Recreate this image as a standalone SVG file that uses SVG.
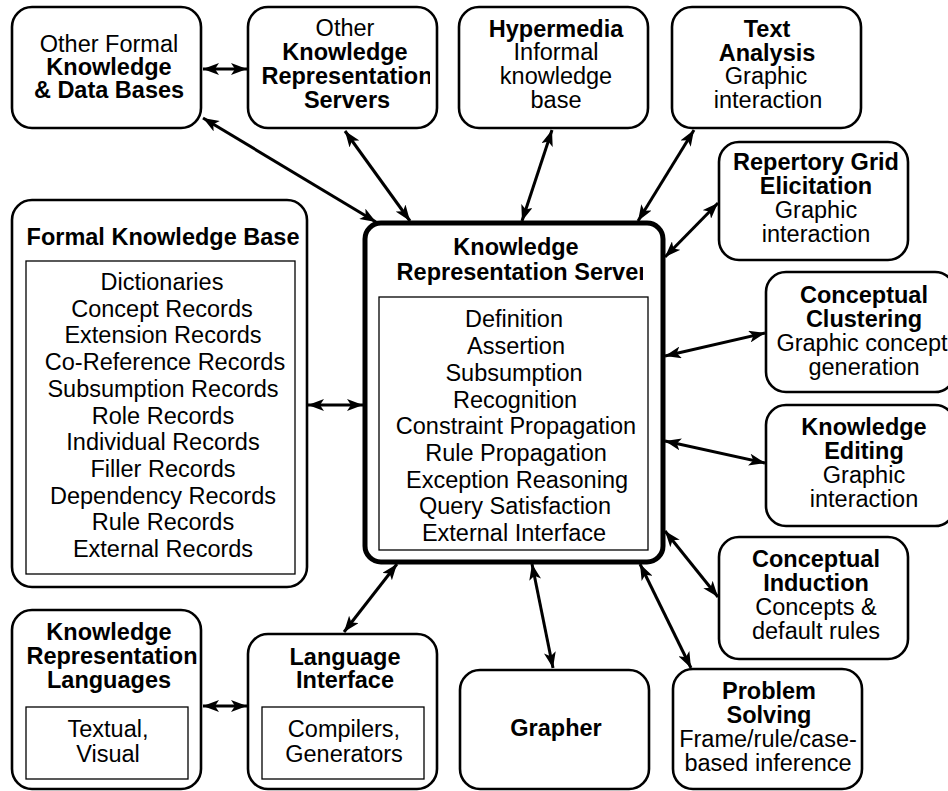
<svg xmlns="http://www.w3.org/2000/svg" width="948" height="791" viewBox="0 0 948 791">
<style>
  .box { fill: #fff; stroke: #000; stroke-width: 2.6; }
  .main { fill: #fff; stroke: #000; stroke-width: 5; }
  .inner { fill: #fff; stroke: #000; stroke-width: 1.3; }
  text { font-family: "Liberation Sans", Arial, Helvetica, sans-serif; font-size: 23.5px; text-anchor: middle; fill: #000; }
  .b { font-weight: bold; }
  .conn line { stroke: #000; stroke-width: 3; marker-start: url(#ah); marker-end: url(#ah); }
</style>
<defs>
  <marker id="ah" viewBox="0 0 16 12" refX="16" refY="6" markerWidth="16" markerHeight="12" markerUnits="userSpaceOnUse" orient="auto-start-reverse">
    <path d="M0,0 L16,6 L0,12 L4,6 Z" fill="#000"/>
  </marker>
  <clipPath id="clipB2"><rect x="250" y="0" width="180" height="140"/></clipPath>
  <clipPath id="clipFKB"><rect x="14" y="200" width="286" height="60"/></clipPath>
  <clipPath id="clipCoRef"><rect x="27" y="262" width="258" height="310"/></clipPath>
  <clipPath id="clipKRS"><rect x="367" y="225" width="276" height="70"/></clipPath>
</defs>
<rect x="0" y="0" width="948" height="791" fill="#fff"/>

<g id="connectors" class="conn">
  <line x1="203" y1="69" x2="247" y2="69"/>
  <line x1="203" y1="118" x2="376" y2="222"/>
  <line x1="345" y1="131" x2="410" y2="221"/>
  <line x1="552" y1="130" x2="522" y2="221"/>
  <line x1="694" y1="130" x2="638" y2="221"/>
  <line x1="718" y1="203" x2="665" y2="257"/>
  <line x1="765" y1="333" x2="665" y2="356"/>
  <line x1="665" y1="441" x2="765" y2="463"/>
  <line x1="665" y1="531" x2="718" y2="597"/>
  <line x1="640" y1="564" x2="691" y2="668"/>
  <line x1="532" y1="564" x2="553" y2="668"/>
  <line x1="397" y1="564" x2="344" y2="632"/>
  <line x1="308" y1="405" x2="363" y2="405"/>
  <line x1="203" y1="706" x2="247" y2="706"/>
</g>

<g id="other-formal-kdb">
  <rect class="box" x="12" y="7" width="189" height="121" rx="20"/>
  <text x="109" y="52">Other Formal</text>
  <text class="b" x="109" y="75">Knowledge</text>
  <text class="b" x="109" y="98">&amp; Data Bases</text>
</g>

<g id="other-krs">
  <rect class="box" x="248" y="7" width="189" height="121" rx="20"/>
  <g clip-path="url(#clipB2)">
    <text x="345" y="36">Other</text>
    <text class="b" x="345" y="60">Knowledge</text>
    <text class="b" x="347" y="84">Representation</text>
    <text class="b" x="347" y="108">Servers</text>
  </g>
</g>

<g id="hypermedia">
  <rect class="box" x="459" y="7" width="189" height="121" rx="20"/>
  <text class="b" x="556" y="37">Hypermedia</text>
  <text x="556" y="60">Informal</text>
  <text x="556" y="84">knowledge</text>
  <text x="556" y="108">base</text>
</g>

<g id="text-analysis">
  <rect class="box" x="672" y="7" width="189" height="121" rx="20"/>
  <text class="b" x="767" y="37">Text</text>
  <text class="b" x="767" y="61">Analysis</text>
  <text x="766" y="84">Graphic</text>
  <text x="768" y="108">interaction</text>
</g>

<g id="repertory-grid">
  <rect class="box" x="719" y="142" width="189" height="118" rx="20"/>
  <text class="b" x="816" y="170">Repertory Grid</text>
  <text class="b" x="816" y="194">Elicitation</text>
  <text x="816" y="218">Graphic</text>
  <text x="816" y="242">interaction</text>
</g>

<g id="conceptual-clustering">
  <rect class="box" x="766" y="272" width="189" height="120" rx="20"/>
  <text class="b" x="864" y="303">Conceptual</text>
  <text class="b" x="864" y="327">Clustering</text>
  <text x="862" y="351">Graphic concept</text>
  <text x="864" y="375">generation</text>
</g>

<g id="knowledge-editing">
  <rect class="box" x="766" y="405" width="189" height="121" rx="20"/>
  <text class="b" x="864" y="435">Knowledge</text>
  <text class="b" x="864" y="459">Editing</text>
  <text x="864" y="483">Graphic</text>
  <text x="864" y="507">interaction</text>
</g>

<g id="conceptual-induction">
  <rect class="box" x="719" y="537" width="189" height="122" rx="20"/>
  <text class="b" x="816" y="567">Conceptual</text>
  <text class="b" x="816" y="591">Induction</text>
  <text x="816" y="615">Concepts &amp;</text>
  <text x="816" y="639">default rules</text>
</g>

<g id="problem-solving">
  <rect class="box" x="673" y="669" width="189" height="120" rx="20"/>
  <text class="b" x="769" y="699">Problem</text>
  <text class="b" x="769" y="723">Solving</text>
  <text x="768" y="747">Frame/rule/case-</text>
  <text x="768" y="771">based inference</text>
</g>

<g id="grapher">
  <rect class="box" x="460" y="670" width="189" height="119" rx="20"/>
  <text class="b" x="556" y="736">Grapher</text>
</g>

<g id="language-interface">
  <rect class="box" x="248" y="634" width="189" height="155" rx="20"/>
  <text class="b" x="345" y="665">Language</text>
  <text class="b" x="345" y="688">Interface</text>
  <rect class="inner" x="262" y="707" width="162" height="72"/>
  <text x="344" y="737">Compilers,</text>
  <text x="344" y="762">Generators</text>
</g>

<g id="kr-languages">
  <rect class="box" x="12" y="610" width="189" height="179" rx="20"/>
  <text class="b" x="109" y="640">Knowledge</text>
  <text class="b" x="112" y="664">Representation</text>
  <text class="b" x="109" y="688">Languages</text>
  <rect class="inner" x="26" y="707" width="162" height="72"/>
  <text x="108" y="737">Textual,</text>
  <text x="108" y="762">Visual</text>
</g>

<g id="formal-kb">
  <rect class="box" x="12" y="200" width="295" height="387" rx="20"/>
  <text class="b" x="163" y="245" clip-path="url(#clipFKB)">Formal Knowledge Base</text>
  <rect class="inner" x="26" y="261" width="269" height="313"/>
  <text x="162" y="290">Dictionaries</text>
  <text x="162" y="317">Concept Records</text>
  <text x="163" y="343">Extension Records</text>
  <text x="165" y="370" clip-path="url(#clipCoRef)">Co-Reference Records</text>
  <text x="163" y="397">Subsumption Records</text>
  <text x="163" y="424">Role Records</text>
  <text x="163" y="450">Individual Records</text>
  <text x="163" y="477">Filler Records</text>
  <text x="163" y="504">Dependency Records</text>
  <text x="163" y="530">Rule Records</text>
  <text x="163" y="557">External Records</text>
</g>

<g id="kr-server">
  <rect class="main" x="365" y="223" width="298" height="339" rx="16"/>
  <g clip-path="url(#clipKRS)">
    <text class="b" x="516" y="255">Knowledge</text>
    <text class="b" x="522" y="280">Representation Server</text>
  </g>
  <rect class="inner" x="379" y="297" width="269" height="253"/>
  <text x="514" y="327">Definition</text>
  <text x="516" y="354">Assertion</text>
  <text x="514" y="381">Subsumption</text>
  <text x="515" y="408">Recognition</text>
  <text x="516" y="434">Constraint Propagation</text>
  <text x="516" y="461">Rule Propagation</text>
  <text x="517" y="488">Exception Reasoning</text>
  <text x="515" y="514">Query Satisfaction</text>
  <text x="514" y="541">External Interface</text>
</g>
</svg>
